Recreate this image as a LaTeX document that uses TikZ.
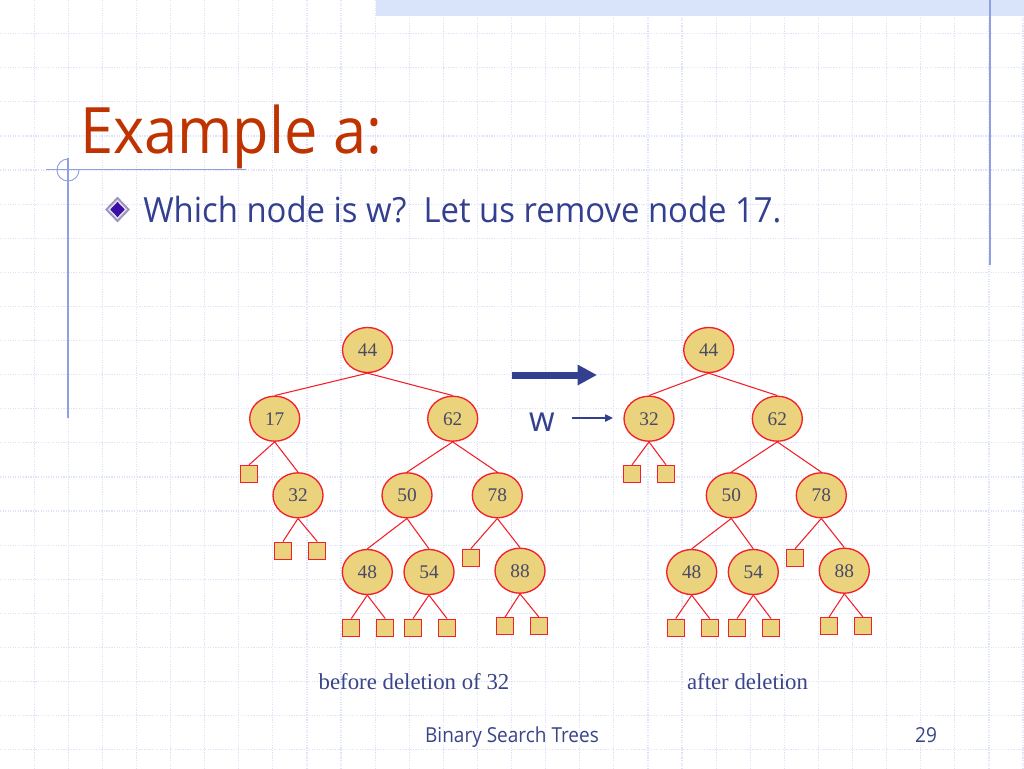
\documentclass[tikz,border=0pt]{standalone}
\usepackage{fontspec}
\setmainfont{Liberation Serif}
\newfontfamily\tahoma[FakeStretch=0.93]{Open Sans}
\newfontfamily\tahomab[FakeStretch=0.948]{Open Sans}
\newfontfamily\tahomaf[FakeStretch=0.92]{Open Sans}
\usetikzlibrary{shapes.geometric,arrows.meta}
\definecolor{gridc}{HTML}{DDE4FA}
\definecolor{bandc}{HTML}{D9E3F9}
\definecolor{rulec}{HTML}{8E9FE3}
\definecolor{titlec}{HTML}{BF3300}
\definecolor{bodyc}{HTML}{333F8F}
\definecolor{fillc}{HTML}{EBD27D}
\definecolor{inkc}{HTML}{4A4A66}
\definecolor{edgec}{HTML}{F2202A}
\definecolor{capc}{HTML}{3A4488}
\definecolor{bulo}{HTML}{9C94BC}
\definecolor{buli}{HTML}{3A0FA8}
\tikzset{
  x=0.75pt,y=-0.75pt,
  gridline/.style={gridc,line width=0.9pt,densely dotted},
  rulel/.style={rulec,line width=0.9pt},
  tn/.style={ellipse,draw=edgec,fill=fillc,line width=1pt,minimum width=37.5pt,minimum height=33.75pt,inner sep=0pt,text=inkc,font=\fontsize{14.5}{16}\selectfont},
  leaf/.style={rectangle,draw=edgec,fill=fillc,line width=1pt,minimum size=12.75pt,inner sep=0pt},
  tedge/.style={edgec,line width=0.8pt},
  caption/.style={text=capc,font=\fontsize{17.1}{20}\selectfont,inner sep=0pt},
  bulshape/.style={diamond,inner sep=0pt},
}
\begin{document}
\begin{tikzpicture}
\useasboundingbox (0,0) rectangle (1024,768);
\fill[white] (0,0) rectangle (1024,768);
\foreach \i in {1,...,30} \draw[gridline] ({\i*34.1},0) -- ({\i*34.1},768);
\foreach \i in {1,...,22} \draw[gridline] (0,{\i*34.1-0.5}) -- (1024,{\i*34.1-0.5});
\fill[bandc] (376,0) rectangle (1024,16);
\draw[rulel] (990,0) -- (990,265);
\draw[rulel] (68,158) -- (68,418);
\draw[rulel] (46,169.5) -- (246,169.5);
\draw[rulel,line width=0.7pt] (68,159) arc[start angle=270,end angle=0,radius=11];
% title and body
\node[anchor=base west,inner sep=0pt,text=titlec,font=\tahoma\fontsize{48}{54}\selectfont] (title) at (80,153) {Example a:};
\node[bulshape,fill=bulo,minimum width=18.75pt,minimum height=19.5pt] (bula) at (117.5,209.5) {};
\node[bulshape,fill=white!70!bulo,minimum width=14.5pt,minimum height=15pt] (bulb) at (117.5,209.5) {};
\node[bulshape,fill=buli,minimum width=11pt,minimum height=11.5pt] (bulc) at (117.5,209.5) {};
\node[anchor=base west,inner sep=0pt,text=bodyc,font=\tahomab\fontsize{26}{30}\selectfont] (body) at (143,222.5) {Which node is w?\ \ Let us remove node 17.};
% left tree
\node[tn] (a44) at (367.5,350) {44};
\node[tn] (a17) at (274.7,418.7) {17};
\node[tn] (a62) at (452.7,418.7) {62};
\node[tn] (a32) at (298,495.3) {32};
\node[tn] (a50) at (407,495.3) {50};
\node[tn] (a78) at (497.3,495.3) {78};
\node[tn] (a48) at (367.3,572) {48};
\node[tn] (a54) at (429,572) {54};
\node[tn] (a88) at (520,570.7) {88};
\node[leaf] (al1) at (249,474) {};
\node[leaf] (al2) at (283,550.7) {};
\node[leaf] (al3) at (317.3,550.7) {};
\node[leaf] (al4) at (470.7,558) {};
\node[leaf] (al5) at (351.3,627.7) {};
\node[leaf] (al6) at (385.3,627.7) {};
\node[leaf] (al7) at (413,627.7) {};
\node[leaf] (al8) at (447,627.7) {};
\node[leaf] (al9) at (505,626.3) {};
\node[leaf] (al10) at (539,626.3) {};
\foreach \p/\c in {a44/a17,a44/a62,a17/a32,a62/a50,a62/a78,a50/a48,a50/a54,a78/a88,a17/al1,a32/al2,a32/al3,a78/al4,a48/al5,a48/al6,a54/al7,a54/al8,a88/al9,a88/al10}
  \draw[tedge] (\p.south) -- (\c.north);
% right tree
\node[tn] (b44) at (708.7,350) {44};
\node[tn] (b32) at (649,418.7) {32};
\node[tn] (b62) at (777.3,418.7) {62};
\node[tn] (b50) at (731.3,495.3) {50};
\node[tn] (b78) at (821.3,495.3) {78};
\node[tn] (b48) at (691.7,572) {48};
\node[tn] (b54) at (753.3,572) {54};
\node[tn] (b88) at (844.3,570.7) {88};
\node[leaf] (bl1) at (632,474) {};
\node[leaf] (bl2) at (666,474) {};
\node[leaf] (bl4) at (795,558) {};
\node[leaf] (bl5) at (675.7,627.7) {};
\node[leaf] (bl6) at (709.7,627.7) {};
\node[leaf] (bl7) at (737,627.7) {};
\node[leaf] (bl8) at (771,627.7) {};
\node[leaf] (bl9) at (829,626.3) {};
\node[leaf] (bl10) at (863,626.3) {};
\foreach \p/\c in {b44/b32,b44/b62,b62/b50,b62/b78,b50/b48,b50/b54,b78/b88,b32/bl1,b32/bl2,b78/bl4,b48/bl5,b48/bl6,b54/bl7,b54/bl8,b88/bl9,b88/bl10}
  \draw[tedge] (\p.south) -- (\c.north);
% arrows
\coordinate (bigs) at (512,375);
\coordinate (bige) at (597,375);
\draw[bodyc,line width=5.25pt,-{Triangle[length=14.5pt,width=14.5pt]}] (bigs) -- (bige);
\node[anchor=base,inner sep=0pt,text=bodyc,font=\tahomab\fontsize{26}{30}\selectfont] (wl) at (542,431.5) {w};
\coordinate (ws) at (572,418);
\coordinate (we) at (613,418);
\draw[bodyc,line width=1pt,-{Triangle[length=6pt,width=5.5pt]}] (ws) -- (we);
% captions
\node[caption,anchor=base] (c1) at (414,689) {before deletion of 32};
\node[caption,anchor=base] (c2) at (747.5,689) {after deletion};
\node[anchor=base,inner sep=0pt,text=capc,font=\tahomaf\fontsize{15.5}{18}\selectfont] (ft) at (512,742) {Binary Search Trees};
\node[anchor=base,inner sep=0pt,text=capc,font=\tahomaf\fontsize{15.5}{18}\selectfont] (pg) at (926,742) {29};
\end{tikzpicture}
\end{document}
